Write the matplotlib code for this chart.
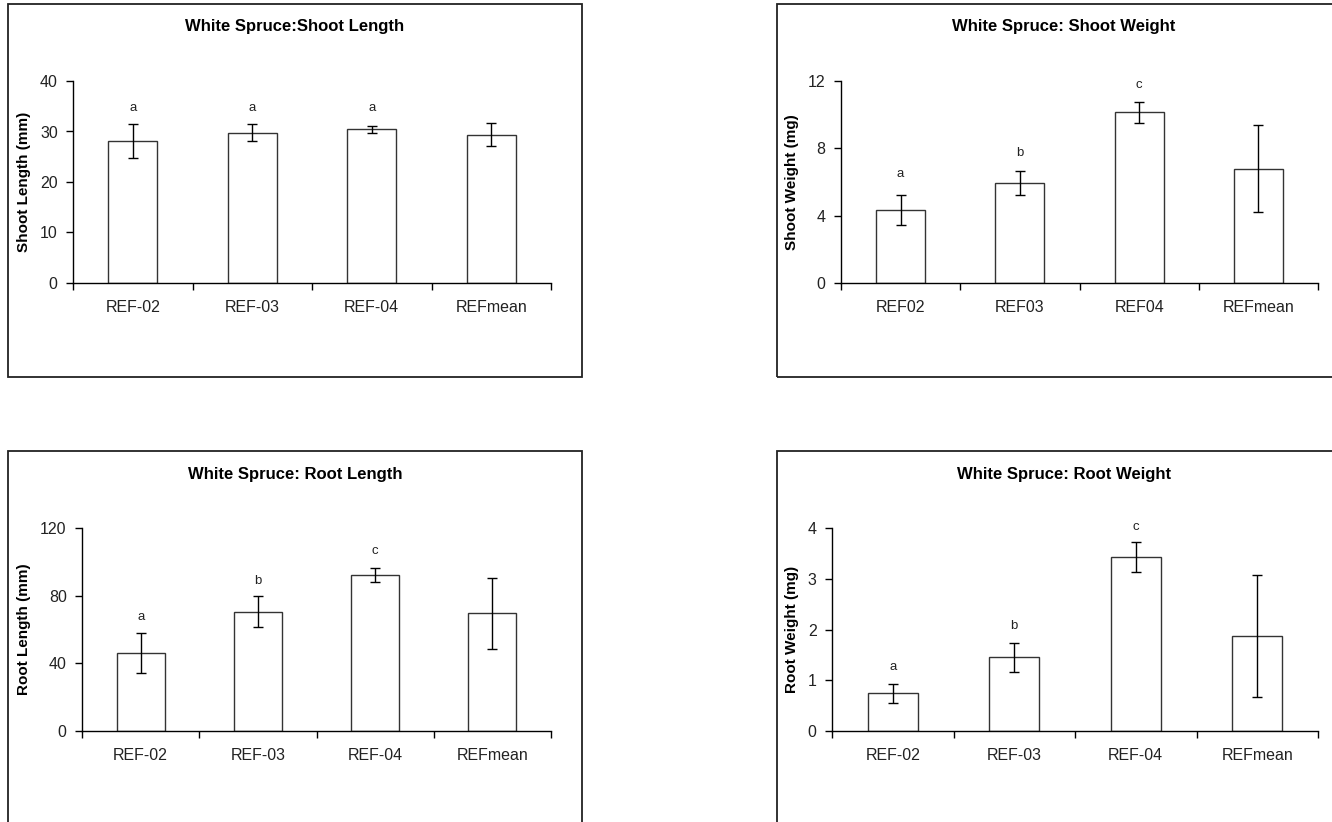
import numpy as np
import matplotlib
matplotlib.use("Agg")
import matplotlib.pyplot as plt
from matplotlib.patches import Rectangle

plt.rcParams["font.family"] = ["Liberation Sans", "DejaVu Sans"]

# ===== data =====
cats_dash = ["REF-02", "REF-03", "REF-04", "REFmean"]
cats_plain = ["REF02", "REF03", "REF04", "REFmean"]

shoot_len = [28.1, 29.8, 30.4, 29.4]
shoot_len_err = [3.3, 1.7, 0.75, 2.3]
shoot_len_letters = ["a", "a", "a", ""]
shoot_len_letter_y = [34.7, 34.7, 34.7, 0]

shoot_wt = [4.35, 5.95, 10.15, 6.8]
shoot_wt_err = [0.9, 0.7, 0.62, 2.6]
shoot_wt_letters = ["a", "b", "c", ""]
shoot_wt_letter_y = [6.45, 7.7, 11.75, 0]

root_len = [46.3, 70.6, 92.3, 69.6]
root_len_err = [11.9, 9.3, 4.2, 21.0]
root_len_letters = ["a", "b", "c", ""]
root_len_letter_y = [67.6, 88.8, 106.2, 0]

root_wt = [0.74, 1.45, 3.43, 1.87]
root_wt_err = [0.18, 0.28, 0.30, 1.2]
root_wt_letters = ["a", "b", "c", ""]
root_wt_letter_y = [1.27, 2.07, 4.02, 0]

W, H = 1332, 822
fig = plt.figure(figsize=(W / 100, H / 100), dpi=100)


def px_axes(x0, x1, y0, y1):
    return fig.add_axes([x0 / W, 1 - y1 / H, (x1 - x0) / W, (y1 - y0) / H])


def frame(x0, x1, y0, y1):
    fig.add_artist(Rectangle((x0 / W, 1 - y1 / H), (x1 - x0) / W, (y1 - y0) / H,
                             transform=fig.transFigure, fill=False,
                             edgecolor="#222222", linewidth=1.3, clip_on=False))


def panel(box, fbox, title, ylabel, cats, vals, errs, letters, letter_y, yticks, ylab_x):
    x0, x1, y0, y1 = box
    fx0, fx1, fy0, fy1 = fbox
    frame(fx0, fx1, fy0, fy1)
    ax = px_axes(x0, x1, y0, y1)
    x = np.arange(len(cats))
    ax.bar(x, vals, width=0.41, color="white", edgecolor="#333333", linewidth=1.0, zorder=2)
    ax.errorbar(x, vals, yerr=errs, fmt="none", ecolor="black", elinewidth=1.0,
                capsize=3.3, capthick=1.0, zorder=3)
    for xi, t, ty in zip(x, letters, letter_y):
        if t:
            ax.text(xi, ty, t, ha="center", va="center", fontsize=9.5, color="#222222")
    ax.set_xlim(-0.5, len(cats) - 0.5)
    ax.set_ylim(0, yticks[-1])
    ax.set_yticks(yticks)
    ax.set_xticks(x)
    ax.set_xticklabels(cats)
    ax.set_xticks(np.arange(len(cats) + 1) - 0.5, minor=True)
    ax.tick_params(axis="x", which="major", length=0, pad=12, labelsize=11.5, colors="#222222")
    ax.tick_params(axis="x", which="minor", length=5, width=1, direction="out")
    ax.tick_params(axis="y", length=5, width=1, direction="out", pad=6, labelsize=11.5,
                   labelcolor="#222222")
    for s in ["top", "right"]:
        ax.spines[s].set_visible(False)
    for s in ["left", "bottom"]:
        ax.spines[s].set_linewidth(1.0)
        ax.spines[s].set_color("black")
    fig.text((fx0 + fx1) / 2 / W, 1 - (fy0 + 23) / H, title, ha="center", va="center",
             fontsize=12, fontweight="bold")
    fig.text(ylab_x / W, 1 - (y0 + y1) / 2 / H, ylabel, rotation=90, ha="center",
             va="center", fontsize=11, fontweight="bold")
    return ax


panel((73, 551, 81, 283), (8, 582, 4, 377), "White Spruce:Shoot Length", "Shoot Length (mm)",
      cats_dash, shoot_len, shoot_len_err, shoot_len_letters, shoot_len_letter_y,
      [0, 10, 20, 30, 40], 24)
panel((841, 1318, 81, 283), (777, 1351, 4, 377), "White Spruce: Shoot Weight", "Shoot Weight (mg)",
      cats_plain, shoot_wt, shoot_wt_err, shoot_wt_letters, shoot_wt_letter_y,
      [0, 4, 8, 12], 792)
panel((82, 551, 528, 731), (8, 582, 451, 824), "White Spruce: Root Length", "Root Length (mm)",
      cats_dash, root_len, root_len_err, root_len_letters, root_len_letter_y,
      [0, 40, 80, 120], 24)
panel((832, 1318, 528, 731), (777, 1351, 451, 824), "White Spruce: Root Weight", "Root Weight (mg)",
      cats_dash, root_wt, root_wt_err, root_wt_letters, root_wt_letter_y,
      [0, 1, 2, 3, 4], 792)

fig.savefig("out.png", dpi=100)
